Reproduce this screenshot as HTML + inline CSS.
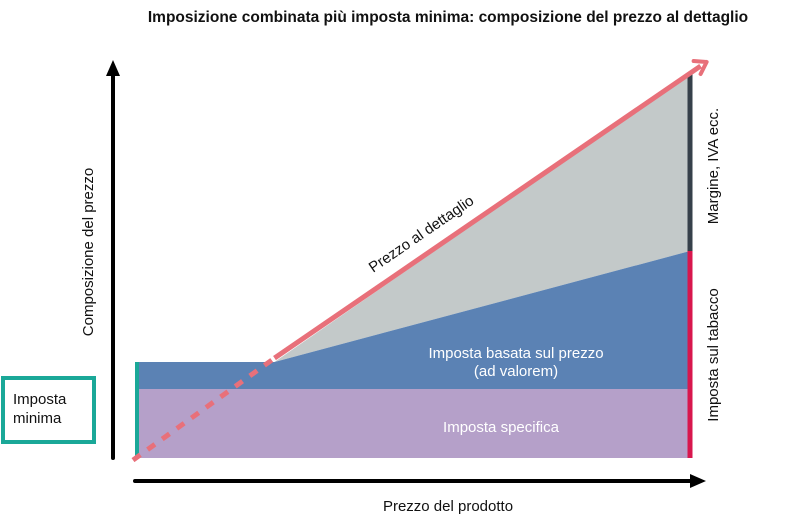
<!DOCTYPE html>
<html><head><meta charset="utf-8"><style>
body{margin:0;background:#fff;}
svg{display:block;font-family:"Liberation Sans",sans-serif;}
</style></head><body>
<svg width="800" height="516" viewBox="0 0 800 516">
<defs>
<marker id="ah" viewBox="0 0 10 10" refX="8" refY="5" markerWidth="4" markerHeight="4" orient="auto"><path d="M0,0 L10,5 L0,10 z" fill="#000"/></marker>
</defs>
<text x="448" y="22" text-anchor="middle" font-size="15.5" font-weight="bold" fill="#111">Imposizione combinata più imposta minima: composizione del prezzo al dettaglio</text>
<g id="plot"></g>
<line x1="113" y1="458" x2="113" y2="68" stroke="#000" stroke-width="4" stroke-linecap="round"/>
<path d="M106,76 L113,60 L120,76 Z" fill="#000"/>
<line x1="135" y1="481" x2="696" y2="481" stroke="#000" stroke-width="4" stroke-linecap="round"/>
<path d="M690,474 L706,481 L690,488 Z" fill="#000"/>
<text x="448" y="511" text-anchor="middle" font-size="15" fill="#111">Prezzo del prodotto</text>
<text transform="translate(93,252) rotate(-90)" text-anchor="middle" font-size="15" fill="#111">Composizione del prezzo</text>
<rect x="3" y="378" width="91" height="64" fill="#fff" stroke="#1aa898" stroke-width="4"/>
<text x="13" y="404" font-size="15" fill="#111"><tspan x="13">Imposta</tspan><tspan x="13" dy="19">minima</tspan></text>
<text x="501" y="432" text-anchor="middle" font-size="15" fill="#fff">Imposta specifica</text>
<text x="516" y="358" text-anchor="middle" font-size="15" fill="#fff"><tspan x="516">Imposta basata sul prezzo</tspan><tspan x="516" dy="18">(ad valorem)</tspan></text>
<text transform="translate(424,238) rotate(-34.5)" text-anchor="middle" font-size="15" fill="#111">Prezzo al dettaglio</text>
<text transform="translate(718,166) rotate(-90)" text-anchor="middle" font-size="15" fill="#111">Margine, IVA ecc.</text>
<text transform="translate(718,355) rotate(-90)" text-anchor="middle" font-size="15" fill="#111">Imposta sul tabacco</text>
</svg>
<script>
const xDomain=[0,100];
const yDomain=[0,130];
const specificTax=[23,23];
const adValoremX=[0,25,100];
const adValoremTop=[32,32,69];
const priceX=[0,25,100,103];
const priceY=[-0.7,33.3,128,132];
const sx=v=>136+(v-xDomain[0])/(xDomain[1]-xDomain[0])*554;
const sy=v=>458-(v-yDomain[0])/(yDomain[1]-yDomain[0])*390;
const NS="http://www.w3.org/2000/svg";
const g=document.getElementById('plot');
function mk(tag,attrs){const e=document.createElementNS(NS,tag);for(const k in attrs)e.setAttribute(k,attrs[k]);g.appendChild(e);return e;}
// margin (gray) area between ad valorem top and price line
let p=`M${sx(25)},${sy(adValoremTop[1])} L${sx(100)},${sy(priceY[2])} L${sx(100)},${sy(adValoremTop[2])} Z`;
const gray=mk('path',{d:p,fill:'#c3c9c9'});


// ad valorem
let av='M'+adValoremX.map((x,i)=>sx(x)+','+sy(adValoremTop[i])).join(' L')+` L${sx(100)},${sy(specificTax[1])} L${sx(0)},${sy(specificTax[0])} Z`;
const adv=mk('path',{d:av,fill:'#5b82b4'});


const sp=mk('rect',{x:sx(0),y:sy(specificTax[0]),width:sx(100)-sx(0),height:sy(0)-sy(specificTax[0]),fill:'#b5a0c9'});


const tb=mk('line',{x1:sx(0)+1,y1:sy(0),x2:sx(0)+1,y2:sy(adValoremTop[0]),stroke:'#1aa898','stroke-width':4});


const mb=mk('line',{x1:sx(100),y1:sy(adValoremTop[2]),x2:sx(100),y2:sy(priceY[2]),stroke:'#36404a','stroke-width':5});


const rb=mk('line',{x1:sx(100),y1:sy(0),x2:sx(100),y2:sy(adValoremTop[2]),stroke:'#d8164d','stroke-width':5});


const dl=mk('line',{x1:sx(priceX[0])-3,y1:sy(priceY[0]),x2:sx(priceX[1]),y2:sy(priceY[1]),stroke:'#e8707a','stroke-width':5,'stroke-dasharray':'9 9'});


const sl=mk('line',{x1:sx(priceX[1]),y1:sy(priceY[1]),x2:sx(priceX[3])-6,y2:sy(priceY[3])+4,stroke:'#e8707a','stroke-width':5});


const ax=sx(priceX[3]),ay=sy(priceY[3]);
const ar=mk('path',{d:`M${ax},${ay} L${ax-13},${ay-1} M${ax},${ay} L${ax-6},${ay+12}`,stroke:'#e8707a','stroke-width':4,fill:'none','stroke-linecap':'round'});


</script>
</body></html>
